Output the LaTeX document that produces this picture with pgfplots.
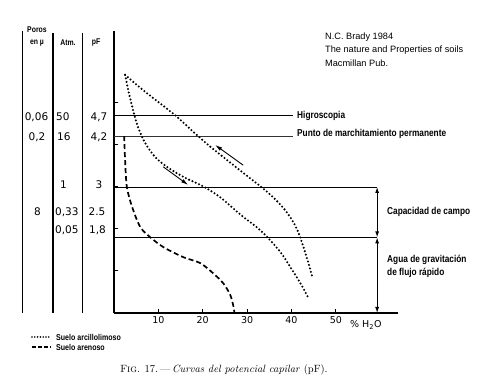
\documentclass[border=0pt]{standalone}
\usepackage{pgfplots}
\pgfplotsset{compat=1.18}
\usetikzlibrary{arrows.meta}
\usepackage{fontspec}
\newfontfamily\lab[FakeStretch=0.83]{Liberation Sans}
\newfontfamily\num{DejaVu Sans}
\newfontfamily\note{Liberation Sans}
\begin{document}
\begin{tikzpicture}[x=1pt,y=1pt]
\path[use as bounding box] (0,0) rectangle (490,387);
\begin{axis}[
  at={(114pt,74pt)}, anchor=south west,
  scale only axis, width=284pt, height=282pt,
  xmin=0, xmax=64, ymin=0, ymax=6.714,
  axis x line*=bottom, axis y line*=left,
  xtick={10,20,30,40,50}, xticklabels={10,20,30,40,50},
  ytick={1,2,3,4,5}, yticklabel=\empty,
  hide obscured x ticks=false,
  tick align=inside, major tick length=4pt,
  every tick/.style={black, line width=1pt},
  axis line style={line width=1.3pt},
  xticklabel style={font=\num\fontsize{9.5}{10}\selectfont},
  clip=false,
]
% horizontal reference lines
\addplot[black, line width=0.8pt] coordinates {(0,4.7) (40.4,4.7)};
\addplot[black!80, line width=0.7pt] coordinates {(0,4.2) (40.4,4.2)};
\addplot[black, line width=0.8pt] coordinates {(0,3) (59.3,3)};
\addplot[black, line width=0.8pt] coordinates {(0,1.8) (59.3,1.8)};
% clay soil (dotted), drying branch
\addplot[smooth, tension=0.5, line width=2.3pt, line cap=round, dash pattern=on 0pt off 3.6pt] coordinates {
(2.5,5.67) (6.5,5.31) (10.4,4.99) (14.2,4.67) (17.8,4.32) (21.7,3.96) (25.5,3.64)
(28.6,3.38) (31.5,3.14) (34.0,2.93) (36.3,2.71) (38.4,2.47) (40.2,2.20) (41.5,1.93)
(42.7,1.57) (43.8,1.19) (44.7,0.86)};
% clay soil (dotted), wetting branch
\addplot[smooth, tension=0.5, line width=2.3pt, line cap=round, dash pattern=on 0pt off 3.6pt] coordinates {
(2.5,5.67) (3.2,5.31) (4.3,4.83) (5.4,4.43) (7.0,4.05) (9.3,3.71) (12.2,3.46)
(16,3.22) (20,3.02) (24,2.75) (28.4,2.35) (32.3,2.03) (34.5,1.81) (37.5,1.45)
(39.7,1.10) (42.0,0.71) (43.8,0.36)};
% sandy soil (dashed)
\addplot[smooth, tension=0.5, line width=1.7pt, dash pattern=on 5pt off 3pt] coordinates {
(2.3,4.21) (2.5,3.64) (2.9,3.00) (4.1,2.52) (5.9,2.05) (8.1,1.81) (11.1,1.57)
(15.6,1.33) (19.4,1.19) (22.3,0.95) (24.6,0.71) (26.2,0.43) (27.0,0.12) (27.1,0)};
% arrows
\draw[-{Latex[length=7pt,width=4pt]}, line width=0.9pt] (axis cs:29.1,3.52) -- (axis cs:22.8,4.0);
\draw[-{Latex[length=7pt,width=4pt]}, line width=0.9pt] (axis cs:11.1,3.48) -- (axis cs:16.7,3.05);
\draw[{Latex[length=6pt,width=4pt]}-{Latex[length=6pt,width=4pt]}, line width=1pt] (axis cs:59.3,3) -- (axis cs:59.3,1.8);
\draw[{Latex[length=6pt,width=4pt]}-{Latex[length=6pt,width=4pt]}, line width=1pt] (axis cs:59.3,1.8) -- (axis cs:59.3,0);
\end{axis}
% % H2O label
\node[anchor=west, inner sep=0, font=\num\fontsize{9.5}{10}\selectfont] at (350,62) {\% H\textsubscript{2}O};
% table columns
\draw[line width=1.4pt] (22.5,356) -- (22.5,74);
\draw[line width=1.4pt] (53,354) -- (53,74);
\draw[line width=1.4pt] (82.5,354) -- (82.5,74);
\node[font=\lab\bfseries\fontsize{8.3}{9}\selectfont, inner sep=0] at (37,357) {Poros};
\node[font=\lab\bfseries\fontsize{8.3}{9}\selectfont, inner sep=0] at (37,344) {en µ};
\node[font=\lab\bfseries\fontsize{8.3}{9}\selectfont, inner sep=0] at (68,344) {Atm.};
\node[font=\lab\bfseries\fontsize{8.3}{9}\selectfont, inner sep=0] at (96,344) {pF};
\begin{scope}[every node/.style={font=\num\fontsize{10.5}{12}\selectfont, inner sep=0}]
\node at (36.5,270) {0,06};
\node[anchor=west] at (56,270) {50};
\node at (99,270) {4,7};
\node at (37,250) {0,2};
\node[anchor=west] at (57,250) {16};
\node at (99,250) {4,2};
\node[anchor=west] at (60,202) {1};
\node at (99,202) {3};
\node at (37.5,175) {8};
\node[anchor=west] at (55,175) {0,33};
\node at (97,175) {2.5};
\node[anchor=west] at (55,157) {0,05};
\node at (97.5,157) {1,8};
\end{scope}
% right labels
\begin{scope}[every node/.style={font=\lab\bfseries\fontsize{10}{13}\selectfont, inner sep=0, anchor=west}]
\node at (297,271) {Higroscopia};
\node at (297,253) {Punto de marchitamiento permanente};
\node at (387,175) {Capacidad de campo};
\node[align=left] at (387,120.5) {Agua de gravitación\\de flujo rápido};
\end{scope}
% source note
\begin{scope}[every node/.style={font=\note\fontsize{9.2}{11}\selectfont, inner sep=0, anchor=west}]
\node at (325,350) {N.C. Brady 1984};
\node at (325,337) {The nature and Properties of soils};
\node at (325,324) {Macmillan Pub.};
\end{scope}
% legend
\draw[line width=1.8pt, line cap=round, dash pattern=on 0pt off 2.8pt] (32,50) -- (51,50);
\draw[line width=1.5pt, dash pattern=on 4pt off 2pt] (32,40) -- (51,40);
\node[anchor=west, inner sep=0, font=\lab\bfseries\fontsize{8.5}{10}\selectfont] at (56,50) {Suelo arcillolimoso};
\node[anchor=west, inner sep=0, font=\lab\bfseries\fontsize{8.5}{10}\selectfont] at (56,40) {Suelo arenoso};
% caption
\node[inner sep=0, font=\fontsize{10.5}{12}\selectfont] at (224,17) {F\textsc{ig}. 17.\,---\,\textit{Curvas del potencial capilar} (pF).};
\end{tikzpicture}
\end{document}
